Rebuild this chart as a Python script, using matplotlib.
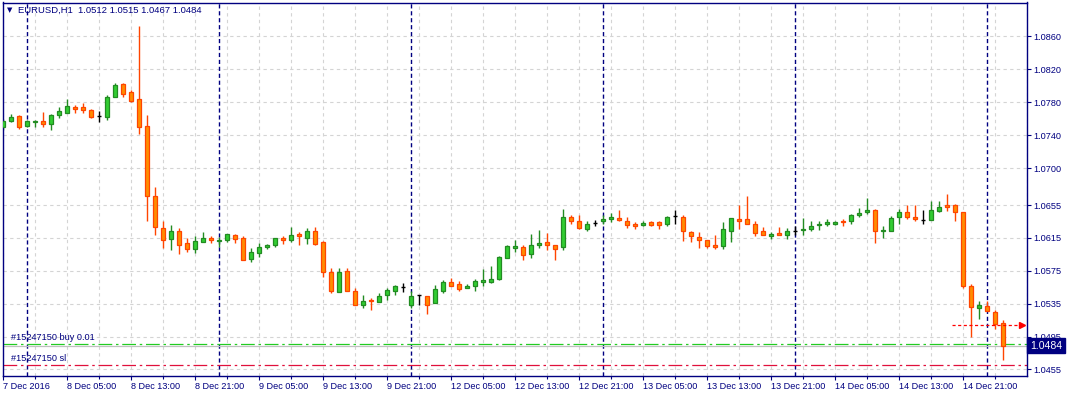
import matplotlib
matplotlib.use("Agg")
import matplotlib.pyplot as plt
from matplotlib.transforms import blended_transform_factory
import numpy as np

# ---------------- data ----------------
symbol_title = "EURUSD,H1  1.0512 1.0515 1.0467 1.0484"

opens = [1.0750, 1.0757, 1.0763, 1.0751, 1.0756, 1.0757, 1.0754, 1.0765, 1.0767, 1.0774,
         1.0774, 1.0771, 1.0763, 1.0762, 1.0787, 1.0802, 1.0793, 1.0784, 1.0751, 1.0666,
         1.0627, 1.0614, 1.0623, 1.0609, 1.0602, 1.0610, 1.0615, 1.0611, 1.0613, 1.0618,
         1.0615, 1.0589, 1.0597, 1.0604, 1.0607, 1.0615, 1.0613, 1.0620, 1.0615, 1.0623,
         1.0610, 1.0573, 1.0549, 1.0575, 1.0551, 1.0534, 1.0540, 1.0537, 1.0545, 1.0551,
         1.0555, 1.0533, 1.0545, 1.0544, 1.0536, 1.0551, 1.0561, 1.0559, 1.0554, 1.0557,
         1.0561, 1.0562, 1.0565, 1.0590, 1.0603, 1.0604, 1.0595, 1.0607, 1.0610, 1.0607,
         1.0604, 1.0641, 1.0636, 1.0626, 1.0633, 1.0636, 1.0638, 1.0639, 1.0636, 1.0632,
         1.0631, 1.0634, 1.0634, 1.0632, 1.0642, 1.0641, 1.0622, 1.0616, 1.0612, 1.0606,
         1.0605, 1.0624, 1.0638, 1.0638, 1.0632, 1.0623, 1.0617, 1.0621, 1.0619, 1.0624,
         1.0625, 1.0626, 1.0631, 1.0632, 1.0632, 1.0636, 1.0635, 1.0643, 1.0646, 1.0649,
         1.0623, 1.0623, 1.0640, 1.0646, 1.0641, 1.0637, 1.0637, 1.0648, 1.0655, 1.0655,
         1.0646, 1.0556, 1.0530, 1.0532, 1.0525, 1.0512]
highs = [1.0760, 1.0766, 1.0764, 1.0758, 1.0759, 1.0768, 1.0766, 1.0774, 1.0784, 1.0777,
         1.0779, 1.0772, 1.0769, 1.0789, 1.0804, 1.0804, 1.0795, 1.0873, 1.0765, 1.0677,
         1.0635, 1.0631, 1.0627, 1.0615, 1.0617, 1.0622, 1.0617, 1.0616, 1.0620, 1.0620,
         1.0617, 1.0603, 1.0609, 1.0608, 1.0615, 1.0617, 1.0628, 1.0622, 1.0627, 1.0628,
         1.0611, 1.0578, 1.0579, 1.0578, 1.0554, 1.0545, 1.0542, 1.0548, 1.0554, 1.0558,
         1.0560, 1.0550, 1.0545, 1.0544, 1.0558, 1.0564, 1.0566, 1.0563, 1.0559, 1.0565,
         1.0577, 1.0581, 1.0593, 1.0606, 1.0613, 1.0606, 1.0620, 1.0625, 1.0621, 1.0607,
         1.0650, 1.0643, 1.0643, 1.0636, 1.0637, 1.0643, 1.0645, 1.0649, 1.0641, 1.0634,
         1.0636, 1.0635, 1.0635, 1.0642, 1.0649, 1.0643, 1.0624, 1.0622, 1.0613, 1.0618,
         1.0634, 1.0639, 1.0655, 1.0666, 1.0636, 1.0628, 1.0622, 1.0628, 1.0627, 1.0630,
         1.0639, 1.0636, 1.0636, 1.0638, 1.0635, 1.0638, 1.0644, 1.0651, 1.0664, 1.0650,
         1.0629, 1.0642, 1.0650, 1.0655, 1.0655, 1.0649, 1.0660, 1.0660, 1.0669, 1.0656,
         1.0647, 1.0559, 1.0538, 1.0538, 1.0527, 1.0515]
lows = [1.0746, 1.0756, 1.0748, 1.0750, 1.0750, 1.0750, 1.0746, 1.0761, 1.0767, 1.0767,
        1.0767, 1.0761, 1.0756, 1.0758, 1.0787, 1.0786, 1.0780, 1.0742, 1.0636, 1.0619,
        1.0603, 1.0600, 1.0596, 1.0598, 1.0597, 1.0610, 1.0609, 1.0604, 1.0610, 1.0609,
        1.0588, 1.0586, 1.0592, 1.0602, 1.0604, 1.0608, 1.0610, 1.0606, 1.0608, 1.0606,
        1.0568, 1.0548, 1.0549, 1.0551, 1.0533, 1.0530, 1.0527, 1.0537, 1.0540, 1.0546,
        1.0549, 1.0530, 1.0534, 1.0523, 1.0536, 1.0548, 1.0556, 1.0551, 1.0554, 1.0551,
        1.0556, 1.0560, 1.0564, 1.0590, 1.0598, 1.0588, 1.0591, 1.0603, 1.0600, 1.0588,
        1.0600, 1.0632, 1.0626, 1.0624, 1.0630, 1.0632, 1.0634, 1.0636, 1.0627, 1.0626,
        1.0629, 1.0629, 1.0626, 1.0629, 1.0632, 1.0611, 1.0610, 1.0603, 1.0603, 1.0602,
        1.0602, 1.0610, 1.0626, 1.0632, 1.0617, 1.0618, 1.0614, 1.0619, 1.0614, 1.0619,
        1.0619, 1.0623, 1.0625, 1.0630, 1.0631, 1.0630, 1.0632, 1.0640, 1.0644, 1.0609,
        1.0615, 1.0623, 1.0632, 1.0638, 1.0636, 1.0632, 1.0637, 1.0647, 1.0648, 1.0635,
        1.0554, 1.0494, 1.0517, 1.0526, 1.0504, 1.0467]
closes = [1.0757, 1.0762, 1.0750, 1.0757, 1.0757, 1.0753, 1.0764, 1.0769, 1.0775, 1.0772,
          1.0771, 1.0762, 1.0763, 1.0786, 1.0801, 1.0790, 1.0782, 1.0750, 1.0666, 1.0628,
          1.0613, 1.0624, 1.0607, 1.0602, 1.0611, 1.0615, 1.0613, 1.0612, 1.0620, 1.0614,
          1.0588, 1.0598, 1.0604, 1.0606, 1.0615, 1.0612, 1.0618, 1.0617, 1.0624, 1.0608,
          1.0574, 1.0550, 1.0573, 1.0551, 1.0533, 1.0538, 1.0538, 1.0544, 1.0552, 1.0557,
          1.0555, 1.0544, 1.0545, 1.0534, 1.0553, 1.0562, 1.0557, 1.0553, 1.0557, 1.0563,
          1.0564, 1.0565, 1.0592, 1.0605, 1.0605, 1.0594, 1.0606, 1.0609, 1.0606, 1.0602,
          1.0640, 1.0636, 1.0627, 1.0632, 1.0633, 1.0638, 1.0641, 1.0637, 1.0631, 1.0630,
          1.0633, 1.0631, 1.0631, 1.0641, 1.0642, 1.0623, 1.0617, 1.0613, 1.0605, 1.0604,
          1.0626, 1.0639, 1.0636, 1.0632, 1.0621, 1.0618, 1.0620, 1.0619, 1.0623, 1.0624,
          1.0626, 1.0630, 1.0632, 1.0634, 1.0634, 1.0634, 1.0643, 1.0645, 1.0649, 1.0624,
          1.0625, 1.0639, 1.0647, 1.0640, 1.0638, 1.0637, 1.0649, 1.0653, 1.0653, 1.0647,
          1.0557, 1.0531, 1.0533, 1.0526, 1.0510, 1.0484]

x_tick_bars = [0, 8, 16, 24, 32, 40, 48, 56, 64, 72, 80, 88, 96, 104, 112, 120]
x_tick_labels = ["7 Dec 2016", "8 Dec 05:00", "8 Dec 13:00", "8 Dec 21:00", "9 Dec 05:00",
                 "9 Dec 13:00", "9 Dec 21:00", "12 Dec 05:00", "12 Dec 13:00", "12 Dec 21:00",
                 "13 Dec 05:00", "13 Dec 13:00", "13 Dec 21:00", "14 Dec 05:00",
                 "14 Dec 13:00", "14 Dec 21:00"]
day_start_bars = [3, 27, 51, 75, 99, 123]
y_ticks = [1.0860, 1.0820, 1.0780, 1.0740, 1.0700, 1.0655, 1.0615, 1.0575, 1.0535, 1.0495, 1.0455]

bid_price = 1.0484
buy_price = 1.0486
sl_price = 1.0460
trade_arrow_price = 1.0509
buy_label = "#15247150 buy 0.01"
sl_label = "#15247150 sl"

# ---------------- style ----------------
NAVY = "#000080"
BULL_FILL, BULL_EDGE = "#32CD32", "#228B22"
BEAR_FILL, BEAR_EDGE = "#FF8C00", "#FF4500"
FONT = "Liberation Sans"
FS = 6.6

W, H = 1067, 396
fig = plt.figure(figsize=(W / 100, H / 100), dpi=100)
left_px, right_px, top_px, bot_px = 2.5, 1026.5, 2.5, 376
ax = fig.add_axes([left_px / W, 1 - bot_px / H, (right_px - left_px) / W, (bot_px - top_px) / H])

n = len(opens)
xs = np.arange(n)
O = np.array(opens); Hh = np.array(highs); L = np.array(lows); C = np.array(closes)

# grid
GRID = "#D4D4D4"
for yv in y_ticks:
    ax.axhline(yv, color=GRID, lw=0.8, ls=(0, (3, 3)), zorder=0)
for xb in range(0, n + 4, 4):
    ax.axvline(xb, color=GRID, lw=0.8, ls=(0, (3, 3)), zorder=0)

# day separators
for xb in day_start_bars:
    ax.axvline(xb, color=NAVY, lw=1.0, ls=(0, (3, 2)), zorder=1)

bw = 0.62
for i in range(n):
    if C[i] > O[i]:
        fc, ec = BULL_FILL, BULL_EDGE
    elif C[i] < O[i]:
        fc, ec = BEAR_FILL, BEAR_EDGE
    else:
        fc, ec = None, "black"
    ax.vlines(xs[i], L[i], Hh[i], color=ec, lw=1.0, zorder=2)
    if fc is None:
        ax.hlines(O[i], xs[i] - bw / 2, xs[i] + bw / 2, color="black", lw=1.0, zorder=3)
    else:
        ax.bar(xs[i], abs(C[i] - O[i]), bottom=min(O[i], C[i]), width=bw,
               facecolor=fc, edgecolor=ec, linewidth=0.9, zorder=3)

# order / price lines
ax.axhline(bid_price, color="#C0C0C0", lw=0.9, zorder=1)
ax.axhline(buy_price, color="#22CC22", lw=0.9, ls=(0, (11, 3, 2, 3)), zorder=1.5)
ax.axhline(sl_price, color="#E0103C", lw=0.9, ls=(0, (11, 3, 2, 3)), zorder=1.5)
ax.hlines(trade_arrow_price, 118.6, 127.3, color="red", lw=0.9, ls=(0, (2.5, 2)), zorder=4)
ax.plot([127.35], [trade_arrow_price], marker=">", color="red", ms=5, zorder=5, clip_on=False)

ax.annotate(buy_label, xy=(0, buy_price), xycoords=("axes fraction", "data"),
            xytext=(6, 1.5), textcoords="offset points", ha="left", va="bottom",
            fontsize=FS, family=FONT, color=NAVY)
ax.annotate(sl_label, xy=(0, sl_price), xycoords=("axes fraction", "data"),
            xytext=(6, 1.5), textcoords="offset points", ha="left", va="bottom",
            fontsize=FS, family=FONT, color=NAVY)

# axes limits
ax.set_xlim(-0.0625, 127.94)
ax.set_ylim(1.044708, 1.090135)

for sp in ax.spines.values():
    sp.set_color(NAVY)
    sp.set_linewidth(1.0)

ax.yaxis.tick_right()
ax.set_yticks(y_ticks)
ax.set_yticklabels([f"{v:.4f}" for v in y_ticks])
ax.tick_params(axis="y", colors=NAVY, length=3, width=0.8, pad=2, labelsize=FS, labelcolor=NAVY)
ax.set_xticks(x_tick_bars)
ax.set_xticklabels(x_tick_labels, ha="left")
ax.set_xticks(list(range(4, n + 2, 8)), minor=True)
ax.tick_params(axis="x", colors=NAVY, length=3, width=0.8, pad=1.5, labelsize=FS, labelcolor=NAVY)
ax.tick_params(axis="x", which="minor", length=2, width=0.8, colors=NAVY)
for lab in ax.get_xticklabels() + ax.get_yticklabels():
    lab.set_family(FONT)

# current price box
tr = blended_transform_factory(ax.transAxes, ax.transData)
ax.text(1.0035, bid_price, f"{bid_price:.4f}", transform=tr, ha="left", va="center",
        fontsize=7.6, family=FONT, color="white",
        bbox=dict(boxstyle="square,pad=0.25", facecolor=NAVY, edgecolor=NAVY), zorder=10)

# title
fig.text(10 / W, 1 - 10.5 / H, "\u25BC", fontsize=5, color=NAVY, ha="center", va="center",
         family="DejaVu Sans")
fig.text(18 / W, 1 - 10.5 / H, symbol_title, fontsize=6.8, family=FONT, color=NAVY,
         ha="left", va="center")

fig.savefig("out.png", dpi=100, facecolor="white")
